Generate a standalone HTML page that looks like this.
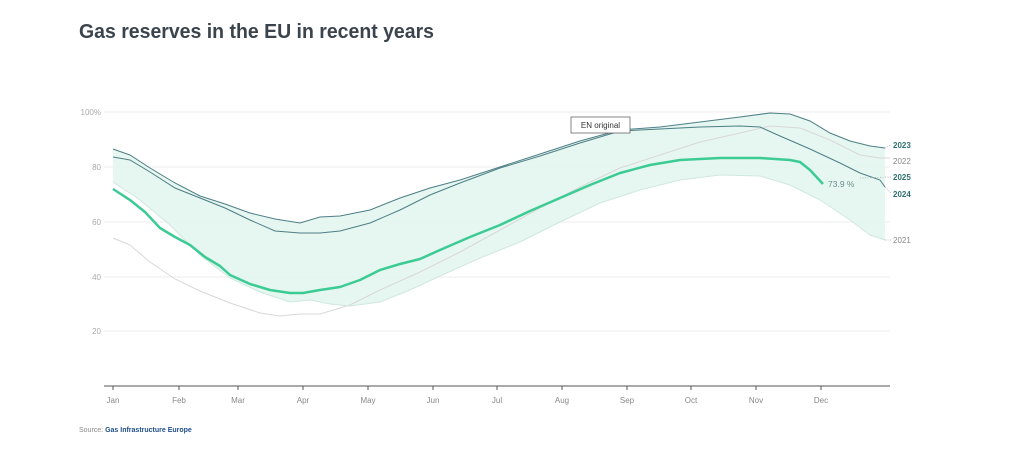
<!DOCTYPE html>
<html><head><meta charset="utf-8"><style>
html,body{margin:0;padding:0;background:#fff;}
svg{display:block;font-family:"Liberation Sans",sans-serif;}
</style></head><body>
<svg width="1024" height="453" viewBox="0 0 1024 453">
<text x="79" y="38" font-size="20" font-weight="bold" fill="#3b444d" textLength="355" lengthAdjust="spacingAndGlyphs">Gas reserves in the EU in recent years</text>
<g stroke="#ececec" stroke-width="1">
<line x1="104" y1="112" x2="890" y2="112"/><line x1="104" y1="167" x2="890" y2="167"/>
<line x1="104" y1="222" x2="890" y2="222"/><line x1="104" y1="277" x2="890" y2="277"/>
<line x1="104" y1="331" x2="890" y2="331"/>
</g>
<g font-size="8" fill="#aaa" text-anchor="end">
<text x="101" y="115">100%</text><text x="101" y="170">80</text><text x="101" y="225">60</text><text x="101" y="280">40</text><text x="101" y="334">20</text>
</g>
<polygon fill="#e3f5ee" opacity="0.9" points="113,149 130,155 150,168 175,183 200,196 225,204 250,213 275,219 300,223 320,217 340,216 370,210 400,198 430,188 460,180 500,167 540,154 580,141 620,130 660,127 700,122 740,117 770,113 790,114 810,121 830,133 850,141 870,146 885,148 885,240 870,235 850,220 820,200 790,185 760,176 720,175 680,180 640,190 600,203 560,222 520,242 480,258 440,276 410,290 380,302 350,306 330,304 310,300 290,302 260,292 230,278 200,255 170,225 140,200 113,182"/>
<polyline fill="none" stroke="#d8d8d8" stroke-width="1" points="113,238 130,245 150,262 175,279 200,291 230,303 260,313 280,316 300,314 320,314 350,305 380,290 420,272 460,252 500,230 540,208 580,187 620,168 660,155 700,142 740,133 770,126 800,128 830,140 860,155 880,158 890,158"/>
<polyline fill="none" stroke="#d0e8df" stroke-width="1" points="113,182 140,200 170,225 200,255 230,278 260,292 290,302 310,300 330,304 350,306 380,302 410,290 440,276 480,258 520,242 560,222 600,203 640,190 680,180 720,175 760,176 790,185 820,200 850,220 870,235 885,240"/>
<polyline fill="none" stroke="#4d7f86" stroke-width="1" points="113,149 130,155 150,168 175,183 200,196 225,204 250,213 275,219 300,223 320,217 340,216 370,210 400,198 430,188 460,180 500,167 540,154 580,141 620,130 660,127 700,122 740,117 770,113 790,114 810,121 830,133 850,141 870,146 885,148"/>
<polyline fill="none" stroke="#4d7f86" stroke-width="1" points="113,157 130,160 150,172 175,188 200,198 225,208 250,220 275,231 300,233 320,233 340,231 370,223 400,210 430,195 460,183 500,168 540,156 580,143 620,131 660,129 700,127 740,126 760,127 780,136 810,149 840,163 860,173 880,180 885,187"/>
<polyline fill="none" stroke="#3ccb95" stroke-width="2.5" stroke-linejoin="round" points="113,189 130,200 145,212 160,228 175,237 190,245 205,257 220,266 230,275 250,284 270,290 290,293 303,293 320,290 340,287 360,280 380,270 400,264 420,259 440,250 470,237 500,225 530,211 560,198 590,185 620,173 650,165 680,160 700,159 720,158 760,158 790,160 800,162 810,170 823,184"/>
<text x="828" y="187" font-size="8.5" fill="#6a8f8a">73.9 %</text>
<g stroke="#aaa" stroke-dasharray="1,1.5" stroke-width="0.8">
<line x1="885" y1="148" x2="891" y2="145"/><line x1="860" y1="178" x2="891" y2="177"/><line x1="885" y1="187" x2="891" y2="193"/><line x1="885" y1="240" x2="891" y2="240"/>
</g>
<g font-size="8" font-weight="bold">
<text x="893" y="148" fill="#2f7070">2023</text>
<text x="893" y="164" fill="#888" font-weight="normal">2022</text>
<text x="893" y="180" fill="#2f7070">2025</text>
<text x="893" y="197" fill="#2f7070">2024</text>
<text x="893" y="243" fill="#888" font-weight="normal">2021</text>
</g>
<rect x="571" y="117" width="59" height="16" fill="#fff" stroke="#666" stroke-width="0.8"/>
<text x="600.5" y="128" font-size="8" fill="#333" text-anchor="middle">EN original</text>
<line x1="104" y1="386" x2="890" y2="386" stroke="#555" stroke-width="1"/>
<g stroke="#555" stroke-width="1">
<line x1="113" y1="386" x2="113" y2="390"/><line x1="179" y1="386" x2="179" y2="390"/><line x1="238" y1="386" x2="238" y2="390"/><line x1="303" y1="386" x2="303" y2="390"/><line x1="368" y1="386" x2="368" y2="390"/><line x1="433" y1="386" x2="433" y2="390"/><line x1="497" y1="386" x2="497" y2="390"/><line x1="562" y1="386" x2="562" y2="390"/><line x1="627" y1="386" x2="627" y2="390"/><line x1="691" y1="386" x2="691" y2="390"/><line x1="756" y1="386" x2="756" y2="390"/><line x1="821" y1="386" x2="821" y2="390"/>
</g>
<g font-size="8" fill="#888" text-anchor="middle">
<text x="113" y="403">Jan</text><text x="179" y="403">Feb</text><text x="238" y="403">Mar</text><text x="303" y="403">Apr</text><text x="368" y="403">May</text><text x="433" y="403">Jun</text><text x="497" y="403">Jul</text><text x="562" y="403">Aug</text><text x="627" y="403">Sep</text><text x="691" y="403">Oct</text><text x="756" y="403">Nov</text><text x="821" y="403">Dec</text>
</g>
<text x="79" y="432" font-size="7" fill="#888">Source: <tspan fill="#1f4e8c" font-weight="bold">Gas Infrastructure Europe</tspan></text>
</svg>
</body></html>
